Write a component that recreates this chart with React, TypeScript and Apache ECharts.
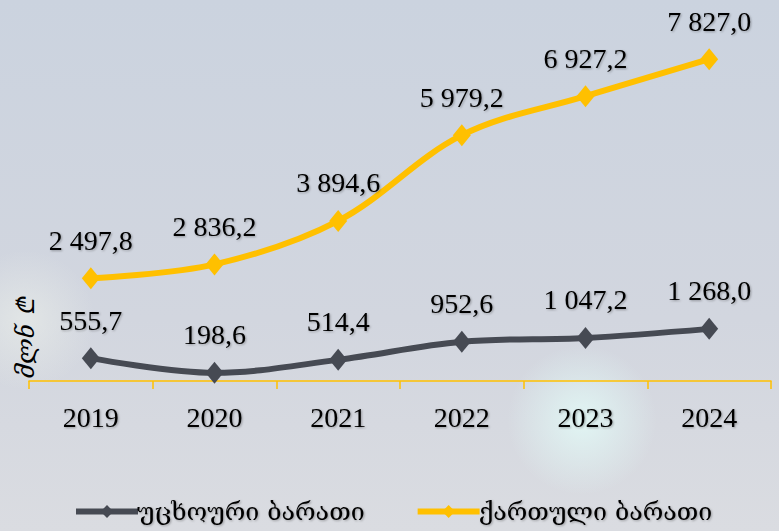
import React, { useEffect, useRef } from "react";
import * as echarts from "echarts";

const years = ["2019", "2020", "2021", "2022", "2023", "2024"];
const foreignCards = [555.7, 198.6, 514.4, 952.6, 1047.2, 1268.0];
const georgianCards = [2497.8, 2836.2, 3894.6, 5979.2, 6927.2, 7827.0];
const seriesNames = ["უცხოური ბარათი", "ქართული ბარათი"];
const unitLabel = "მლნ ₾";

const fmt = (v: number) => {
  const [i, d] = v.toFixed(1).split(".");
  return i.replace(/\B(?=(\d{3})+(?!\d))/g, " ") + "," + d;
};

export default function App() {
  const ref = useRef<HTMLDivElement>(null);
  useEffect(() => {
    const chart = echarts.init(ref.current!, undefined, { renderer: "svg" });
    const shadow = {
      textShadowColor: "rgba(0,0,0,0.3)",
      textShadowBlur: 2,
      textShadowOffsetX: 1,
      textShadowOffsetY: 1,
    };
    const labelStyle = {
      show: true,
      position: "top" as const,
      distance: 13,
      formatter: (p: any) => fmt(p.value),
      fontFamily: "Liberation Serif",
      fontSize: 28,
      color: "#000",
      ...shadow,
    };
    const glow = (cx: number, cy: number, r: number, c: string, a: number) => ({
      type: "circle",
      shape: { cx, cy, r },
      style: {
        fill: {
          type: "radial", x: 0.5, y: 0.5, r: 0.5,
          colorStops: [
            { offset: 0, color: `rgba(${c},${a})` },
            { offset: 1, color: `rgba(${c},0)` },
          ],
        },
      },
      z: -10,
      silent: true,
    });
    chart.setOption({
      animation: false,
      backgroundColor: {
        type: "linear",
        x: 0, y: 0, x2: 0, y2: 1,
        colorStops: [
          { offset: 0, color: "#cbd3df" },
          { offset: 0.6, color: "#d2d6df" },
          { offset: 1, color: "#dadce1" },
        ],
      },
      graphic: [
        glow(582, 420, 75, "228,255,250", 0.75),
        glow(25, 320, 70, "236,240,234", 0.6),
        {
          type: "text",
          x: 26,
          y: 338,
          rotation: Math.PI / 2,
          style: {
            text: unitLabel,
            fontFamily: "DejaVu Serif",
            fontStyle: "italic",
            fontSize: 24,
            fill: "#000",
            align: "center",
            verticalAlign: "middle",
          },
        },
      ],
      grid: { left: 29, right: 8, top: 11, bottom: 150, containLabel: false },
      legend: {
        left: 68,
        top: 494,
        itemWidth: 62,
        itemHeight: 16,
        itemGap: 50,
        lineStyle: { width: 6 },
        textStyle: {
          fontFamily: "DejaVu Serif",
          fontSize: 25,
          color: "#000",
          padding: [0, 0, 0, -6],
          ...shadow,
        },
        data: seriesNames,
      },
      xAxis: {
        type: "category",
        data: years,
        boundaryGap: true,
        axisLine: { lineStyle: { color: "#ffc000", width: 1.5 } },
        axisTick: { show: true, length: 8, lineStyle: { color: "#ffc000", width: 1.5 } },
        axisLabel: {
          margin: 22,
          fontFamily: "Liberation Serif",
          fontSize: 28,
          color: "#000",
          ...shadow,
        },
      },
      yAxis: {
        type: "value",
        min: 0,
        max: 9000,
        show: false,
        splitLine: { show: false },
      },
      series: [
        {
          name: seriesNames[0],
          type: "line",
          data: foreignCards,
          smooth: 0.35,
          symbol: "diamond",
          symbolSize: [18, 22],
          itemStyle: { color: "#464a53" },
          lineStyle: { color: "#464a53", width: 6 },
          label: labelStyle,
        },
        {
          name: seriesNames[1],
          type: "line",
          data: georgianCards,
          smooth: 0.35,
          symbol: "diamond",
          symbolSize: [18, 22],
          itemStyle: { color: "#ffc000" },
          lineStyle: { color: "#ffc000", width: 6 },
          label: labelStyle,
        },
      ],
    });
    return () => chart.dispose();
  }, []);
  return (
    <div
      ref={ref}
      style={{ position: "absolute", left: 0, top: 0, width: 779, height: 531 }}
    />
  );
}
